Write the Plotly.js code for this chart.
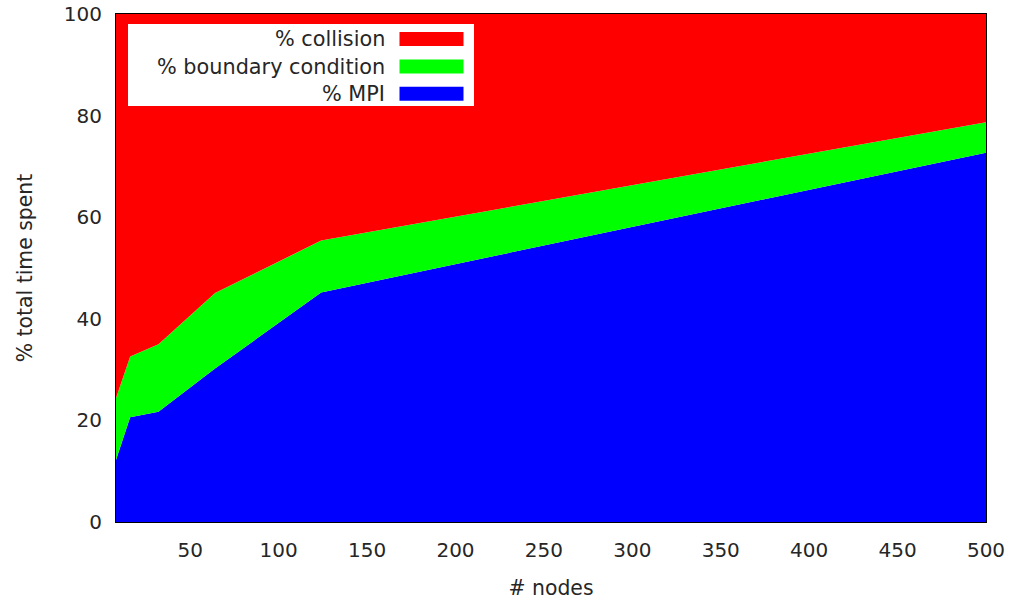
<!DOCTYPE html>
<html>
<head>
<meta charset="utf-8">
<script src="https://cdn.plot.ly/plotly-3.0.1.min.js"></script>
<style>html,body{margin:0;padding:0;background:#fff;}#chart{width:1009px;height:601px;}</style>
</head>
<body>
<div id="chart"></div>
<script>
// Data
const nodes = [8, 16, 32, 64, 124, 500];
const mpiPct = [12.2, 20.6, 21.7, 30.2, 45.2, 72.7];
const boundaryPct = [12.2, 12.0, 13.3, 14.9, 10.2, 6.0];
const collisionPct = [75.6, 67.4, 65.0, 54.9, 44.6, 21.3];
const seriesNames = ['% collision', '% boundary condition', '% MPI'];
const seriesColors = ['#ff0000', '#00ff00', '#0000ff'];
const xTicks = [50, 100, 150, 200, 250, 300, 350, 400, 450, 500];
const yTicks = [0, 20, 40, 60, 80, 100];

const font = {family: 'DejaVu Sans, sans-serif', size: 20, color: '#262626'};
const titleFont = {family: 'DejaVu Sans, sans-serif', size: 20.4, color: '#262626'};
const legendFont = {family: 'DejaVu Sans, sans-serif', size: 20.8, color: '#262626'};

const traces = [
  {x: nodes, y: mpiPct, name: seriesNames[2], color: seriesColors[2]},
  {x: nodes, y: boundaryPct, name: seriesNames[1], color: seriesColors[1]},
  {x: nodes, y: collisionPct, name: seriesNames[0], color: seriesColors[0]}
].map(s => ({
  type: 'scatter', mode: 'lines', x: s.x, y: s.y, name: s.name,
  stackgroup: 'one', line: {width: 0, color: s.color}, fillcolor: s.color,
  hoverinfo: 'x+y+name'
}));

// custom legend (text on the left, swatch on the right, as in gnuplot)
const px = v => (v - 116) / 870;
const py = v => (522 - v) / 508;
const shapes = [{
  type: 'rect', xref: 'paper', yref: 'paper',
  x0: px(128), x1: px(474), y0: py(106), y1: py(24),
  fillcolor: '#ffffff', line: {width: 0}, layer: 'above'
}];
const annotations = [];
const rowY = [39, 66.5, 93.7];
seriesNames.forEach((n, i) => {
  shapes.push({
    type: 'rect', xref: 'paper', yref: 'paper',
    x0: px(399.5), x1: px(463.5), y0: py(rowY[i] + 7), y1: py(rowY[i] - 7),
    fillcolor: seriesColors[i], line: {width: 0}, layer: 'above'
  });
  annotations.push({
    xref: 'paper', yref: 'paper', x: px(387), y: py(rowY[i]),
    xanchor: 'right', yanchor: 'middle', text: n, showarrow: false, font: legendFont
  });
});

const layout = {
  width: 1009, height: 601,
  margin: {l: 116, r: 23, t: 14, b: 79, pad: 0},
  paper_bgcolor: '#ffffff', plot_bgcolor: '#ffffff',
  showlegend: false,
  font: font,
  xaxis: {
    range: [8, 500], tickvals: xTicks, ticktext: xTicks.map(String),
    showgrid: false, zeroline: false,
    showline: true, mirror: true, linecolor: '#000', linewidth: 1,
    ticks: 'outside', ticklen: 10, tickcolor: 'rgba(0,0,0,0)',
    tickfont: font,
    title: {text: '# nodes', font: titleFont, standoff: 19},
    automargin: false
  },
  yaxis: {
    range: [0, 100], tickvals: yTicks, ticktext: yTicks.map(String),
    showgrid: false, zeroline: false,
    showline: true, mirror: true, linecolor: '#000', linewidth: 1,
    ticks: 'outside', ticklen: 9, tickcolor: 'rgba(0,0,0,0)',
    tickfont: font,
    title: {text: '% total time spent', font: titleFont, standoff: 25},
    automargin: false
  },
  shapes: shapes,
  annotations: annotations
};

Plotly.newPlot('chart', traces, layout, {displayModeBar: false, staticPlot: true});
</script>
</body>
</html>
